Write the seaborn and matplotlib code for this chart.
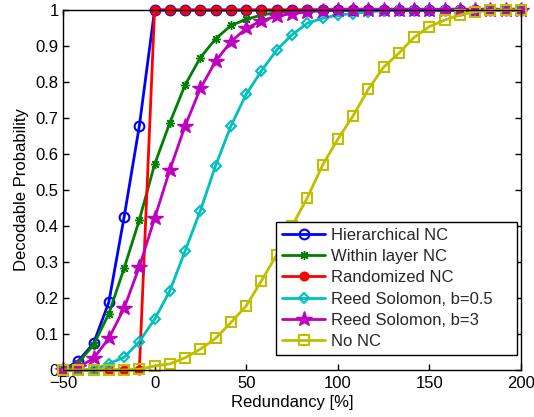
import matplotlib
matplotlib.use("Agg")
import matplotlib.pyplot as plt
import seaborn as sns

redundancy = [-50, -41.67, -33.33, -25, -16.67, -8.33, 0, 8.33, 16.67, 25, 33.33, 41.67, 50,
              58.33, 66.67, 75, 83.33, 91.67, 100, 108.33, 116.67, 125, 133.33, 141.67, 150,
              158.33, 166.67, 175, 183.33, 191.67, 200]

hierarchical_nc = [0, 0.025, 0.074, 0.188, 0.424, 0.678, 1, 1, 1, 1, 1, 1, 1, 1, 1, 1, 1, 1, 1,
                   1, 1, 1, 1, 1, 1, 1, 1, 1, 1, 1, 1]
within_layer_nc = [0, 0.02, 0.07, 0.156, 0.282, 0.417, 0.571, 0.687, 0.792, 0.868, 0.92, 0.957,
                   0.974, 0.986, 0.993, 0.997, 0.999, 1, 1, 1, 1, 1, 1, 1, 1, 1, 1, 1, 1, 1, 1]
randomized_nc = [0, 0, 0, 0, 0, 0, 1, 1, 1, 1, 1, 1, 1, 1, 1, 1, 1, 1, 1, 1, 1, 1, 1, 1, 1, 1,
                 1, 1, 1, 1, 1]
reed_solomon_05 = [0, 0, 0, 0.018, 0.035, 0.079, 0.141, 0.22, 0.331, 0.443, 0.568, 0.678, 0.766,
                   0.831, 0.889, 0.931, 0.963, 0.977, 0.986, 0.99, 0.995, 0.998, 1, 1, 1, 1, 1,
                   1, 1, 1, 1]
reed_solomon_3 = [0, 0.008, 0.032, 0.088, 0.171, 0.287, 0.421, 0.556, 0.678, 0.782, 0.858, 0.912,
                  0.949, 0.97, 0.983, 0.99, 0.995, 0.998, 1, 1, 1, 1, 1, 1, 1, 1, 1, 1, 1, 1, 1]
no_nc = [0, 0, 0, 0, 0, 0.002, 0.011, 0.017, 0.034, 0.058, 0.088, 0.132, 0.178, 0.248, 0.32,
         0.40, 0.478, 0.569, 0.641, 0.706, 0.78, 0.841, 0.88, 0.924, 0.954, 0.972, 0.986, 0.995,
         0.999, 1, 1]

labels = ["Hierarchical NC", "Within layer NC", "Randomized NC",
          "Reed Solomon, b=0.5", "Reed Solomon, b=3", "No NC"]
x_ticks = [-50, 0, 50, 100, 150, 200]
x_tick_labels = ["\u221250", "0", "50", "100", "150", "200"]
y_ticks = [0, 0.1, 0.2, 0.3, 0.4, 0.5, 0.6, 0.7, 0.8, 0.9, 1]
y_tick_labels = ["0", "0.1", "0.2", "0.3", "0.4", "0.5", "0.6", "0.7", "0.8", "0.9", "1"]

sns.set_theme(style="ticks")
plt.rcParams['font.family'] = ['Liberation Sans', 'DejaVu Sans']
plt.rcParams['xtick.direction'] = 'in'
plt.rcParams['ytick.direction'] = 'in'

FS = 12

fig = plt.figure(figsize=(5.34, 4.17), dpi=100)
ax = fig.add_axes([63/534, 1 - 370/417, 458/534, 360/417])

styles = [
    dict(color=(0, 0, 1), marker='o', markersize=7, markerfacecolor='none', markeredgewidth=1.5),
    dict(color=(0, 0.5, 0), marker=(8, 2, 0), markersize=6.5, markeredgewidth=1.0),
    dict(color=(1, 0, 0), marker='o', markersize=6.5, markerfacecolor=(1, 0, 0)),
    dict(color=(0, 0.75, 0.75), marker='D', markersize=5.5, markerfacecolor='none', markeredgewidth=1.5),
    dict(color=(0.75, 0, 0.75), marker='*', markersize=11.5, markeredgewidth=1.0),
    dict(color=(0.75, 0.75, 0), marker='s', markersize=6.5, markerfacecolor='none', markeredgewidth=1.5),
]
series = [hierarchical_nc, within_layer_nc, randomized_nc, reed_solomon_05, reed_solomon_3, no_nc]

for ys, lab, st in zip(series, labels, styles):
    col = st.pop('color')
    st.setdefault('markeredgecolor', col)
    sns.lineplot(x=redundancy, y=ys, ax=ax, color=col, label=lab, linewidth=2,
                 sort=False, clip_on=False, **st)

ax.set_xlim(-50, 200)
ax.set_ylim(0, 1)
ax.set_xticks(x_ticks)
ax.set_xticklabels(x_tick_labels)
ax.set_yticks(y_ticks)
ax.set_yticklabels(y_tick_labels)
ax.tick_params(axis='both', which='both', top=True, right=True, direction='in',
               length=4, width=1, labelsize=FS, color='black', labelcolor='black')
ax.tick_params(axis='x', pad=4)
ax.tick_params(axis='y', pad=3)
for sp in ax.spines.values():
    sp.set_visible(True)
    sp.set_color('black')
    sp.set_linewidth(1)
ax.set_xlabel("Redundancy [%]", fontsize=FS, color='black', labelpad=3)
ax.set_ylabel("Decodable Probability", fontsize=FS, color='black', labelpad=5)

leg = ax.legend(loc='lower left', mode='expand',
                bbox_to_anchor=((276 - 63) / 458, 15 / 360, (517 - 276) / 458, 136 / 360),
                fontsize=FS, frameon=True, fancybox=False, framealpha=1, edgecolor='black',
                handlelength=2.6, borderaxespad=0, labelspacing=0.38, borderpad=0.35,
                handletextpad=0.35)
leg.get_frame().set_linewidth(1)

fig.savefig("out.png", dpi=100)
